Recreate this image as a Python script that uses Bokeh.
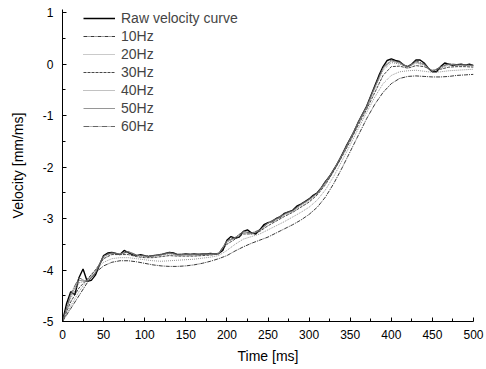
from bokeh.plotting import figure
from bokeh.models import Legend, LegendItem, Range1d, FixedTicker, CustomJSTickFormatter
from bokeh.embed import file_html
from bokeh.resources import INLINE

# ---- data ----
t_raw = [0, 5, 10, 15, 20, 25, 30, 35, 40, 45, 50, 55, 60, 65, 70, 75, 80, 85, 90, 95,
         100, 105, 110, 115, 120, 125, 130, 135, 140, 145, 150, 155, 160, 165, 170, 175,
         180, 185, 190, 195, 200, 205, 210, 215, 220, 225, 230, 235, 240, 245, 250, 255,
         260, 265, 270, 275, 280, 285, 290, 295, 300, 305, 310, 315, 320, 325, 330, 335,
         340, 345, 350, 355, 360, 365, 370, 375, 380, 385, 390, 395, 400, 405, 410, 415,
         420, 425, 430, 435, 440, 445, 450, 455, 460, 465, 470, 475, 480, 485, 490, 495, 500]
raw = [-5.0, -4.65, -4.42, -4.48, -4.15, -3.98, -4.22, -4.2, -4.1, -3.9, -3.72, -3.67, -3.66,
       -3.68, -3.7, -3.62, -3.66, -3.7, -3.72, -3.7, -3.72, -3.74, -3.72, -3.71, -3.7, -3.68,
       -3.66, -3.67, -3.7, -3.7, -3.69, -3.7, -3.69, -3.7, -3.69, -3.69, -3.68, -3.69, -3.68,
       -3.62, -3.42, -3.35, -3.38, -3.36, -3.25, -3.22, -3.28, -3.3, -3.22, -3.12, -3.08,
       -3.06, -3.0, -2.97, -2.9, -2.87, -2.84, -2.76, -2.72, -2.67, -2.62, -2.55, -2.5, -2.4,
       -2.28, -2.18, -2.05, -1.92, -1.76, -1.6, -1.45, -1.3, -1.12, -0.97, -0.82, -0.62,
       -0.42, -0.22, -0.05, 0.07, 0.1, 0.07, 0.05, -0.02, -0.05, 0.0, 0.08, 0.08, 0.02,
       -0.08, -0.15, -0.15, -0.05, 0.02, 0.0, -0.03, -0.01, 0.0, -0.02, 0.0, -0.03]

t_f = [0, 10, 20, 30, 40, 50, 60, 70, 80, 90, 100, 110, 120, 130, 140, 150, 160, 170, 180,
       190, 200, 210, 220, 230, 240, 250, 260, 270, 280, 290, 300, 310, 320, 330, 340, 350,
       360, 370, 380, 390, 400, 410, 420, 430, 440, 450, 460, 470, 480, 490, 500]
f10 = [-5.0, -4.75, -4.5, -4.25, -4.05, -3.92, -3.85, -3.82, -3.82, -3.84, -3.87, -3.9,
       -3.92, -3.93, -3.93, -3.92, -3.9, -3.87, -3.83, -3.78, -3.72, -3.63, -3.55, -3.48,
       -3.42, -3.36, -3.28, -3.2, -3.12, -3.03, -2.92, -2.78, -2.58, -2.32, -2.02, -1.7,
       -1.38, -1.06, -0.78, -0.55, -0.38, -0.28, -0.24, -0.23, -0.24, -0.25, -0.25, -0.24,
       -0.22, -0.21, -0.2]
f20 = [-5.0, -4.7, -4.42, -4.2, -4.0, -3.85, -3.78, -3.76, -3.76, -3.78, -3.8, -3.82,
       -3.83, -3.82, -3.81, -3.8, -3.79, -3.77, -3.75, -3.72, -3.62, -3.5, -3.4, -3.35,
       -3.3, -3.22, -3.14, -3.06, -2.97, -2.88, -2.78, -2.64, -2.44, -2.18, -1.88, -1.57,
       -1.25, -0.94, -0.64, -0.38, -0.22, -0.15, -0.13, -0.12, -0.14, -0.16, -0.15, -0.13,
       -0.12, -0.11, -0.1]
f30 = [-5.0, -4.62, -4.35, -4.18, -4.0, -3.78, -3.7, -3.7, -3.7, -3.74, -3.76, -3.76,
       -3.74, -3.72, -3.73, -3.73, -3.73, -3.72, -3.71, -3.69, -3.5, -3.4, -3.3, -3.3,
       -3.25, -3.14, -3.05, -2.96, -2.88, -2.78, -2.68, -2.54, -2.34, -2.08, -1.8, -1.5,
       -1.18, -0.88, -0.55, -0.22, -0.05, -0.04, -0.08, -0.03, -0.05, -0.12, -0.1, -0.06,
       -0.05, -0.05, -0.06]
f40 = [-5.0, -4.55, -4.25, -4.2, -4.02, -3.75, -3.68, -3.68, -3.66, -3.72, -3.74, -3.74,
       -3.71, -3.69, -3.71, -3.71, -3.71, -3.7, -3.7, -3.69, -3.46, -3.38, -3.27, -3.3,
       -3.24, -3.1, -3.03, -2.93, -2.86, -2.75, -2.65, -2.52, -2.31, -2.06, -1.78, -1.47,
       -1.14, -0.85, -0.48, -0.12, 0.03, 0.0, -0.06, 0.02, -0.02, -0.13, -0.08, -0.02,
       -0.03, -0.03, -0.04]
f50 = [-5.0, -4.5, -4.2, -4.22, -4.05, -3.73, -3.67, -3.69, -3.64, -3.71, -3.73, -3.73,
       -3.7, -3.67, -3.7, -3.7, -3.7, -3.69, -3.69, -3.68, -3.44, -3.37, -3.25, -3.29,
       -3.23, -3.09, -3.01, -2.92, -2.85, -2.73, -2.63, -2.51, -2.29, -2.05, -1.77, -1.46,
       -1.12, -0.83, -0.45, -0.08, 0.06, 0.02, -0.05, 0.04, -0.01, -0.14, -0.06, 0.0,
       -0.02, -0.02, -0.03]
f60 = [-5.0, -4.46, -4.15, -4.23, -4.07, -3.72, -3.66, -3.7, -3.64, -3.71, -3.72, -3.72,
       -3.7, -3.66, -3.7, -3.69, -3.69, -3.69, -3.68, -3.68, -3.43, -3.37, -3.25, -3.28,
       -3.22, -3.08, -3.0, -2.9, -2.84, -2.72, -2.62, -2.5, -2.28, -2.05, -1.76, -1.45,
       -1.12, -0.82, -0.43, -0.06, 0.08, 0.04, -0.05, 0.06, 0.01, -0.15, -0.05, 0.01,
       -0.01, -0.01, -0.02]

labels = ["Raw velocity curve", "10Hz", "20Hz", "30Hz", "40Hz", "50Hz", "60Hz"]
x_ticks = [0, 50, 100, 150, 200, 250, 300, 350, 400, 450, 500]
y_ticks = [-5, -4, -3, -2, -1, 0, 1]

FONT = "Liberation Sans"

p = figure(width=486, height=369, output_backend="svg", toolbar_location=None,
           x_range=Range1d(0, 500), y_range=Range1d(-5, 1.06),
           min_border_left=62, min_border_right=13, min_border_top=9, min_border_bottom=48)
p.outline_line_color = None
p.xgrid.visible = False
p.ygrid.visible = False
p.background_fill_color = "white"
p.border_fill_color = "white"

series = [
    (t_f, f10, "#222222", "4 1 1 1", 0.9),
    (t_f, f20, "#888888", "1 1", 0.9),
    (t_f, f30, "#333333", "3 1", 0.9),
    (t_f, f40, "#777777", "1 1", 0.9),
    (t_f, f50, "#8a8a8a", "solid", 0.9),
    (t_f, f60, "#555555", "6 1 1 1", 0.9),
]
renderers = []
r_raw = p.line(t_raw, raw, line_color="black", line_width=1.4)
for tx, vy, col, dash, w in series:
    r = p.line(tx, vy, line_color=col, line_dash=dash, line_width=w)
    renderers.append(r)
all_r = [r_raw] + renderers

legend = Legend(items=[LegendItem(label=l, renderers=[r]) for l, r in zip(labels, all_r)],
                location=(21, 187), border_line_color=None, background_fill_alpha=0,
                label_text_font=FONT, label_text_font_size="14px",
                glyph_width=32, glyph_height=16, label_height=16, spacing=2,
                label_standoff=6, padding=0, margin=0)
p.add_layout(legend)

for ax in (p.xaxis[0], p.yaxis[0]):
    ax.axis_line_color = "black"
    ax.axis_line_width = 1
    ax.major_tick_in = 4
    ax.major_tick_out = 0
    ax.minor_tick_in = 3
    ax.minor_tick_out = 0
    ax.major_tick_line_color = "black"
    ax.minor_tick_line_color = "black"
    ax.major_label_text_font = FONT
    ax.major_label_text_font_size = "12px"
    ax.major_label_text_color = "black"
    ax.axis_label_text_font = FONT
    ax.axis_label_text_font_size = "14px"
    ax.axis_label_text_font_style = "normal"
    ax.axis_label_text_color = "black"

p.xaxis[0].ticker = FixedTicker(ticks=x_ticks, minor_ticks=[v + 25 for v in x_ticks[:-1]])
p.yaxis[0].ticker = FixedTicker(ticks=y_ticks, minor_ticks=[v + 0.5 for v in y_ticks[:-1]])
p.yaxis[0].formatter = CustomJSTickFormatter(code="return tick.toFixed(0);")
p.xaxis.axis_label = "Time [ms]"
p.yaxis.axis_label = "Velocity [mm/ms]"
p.xaxis.major_label_standoff = 8
p.yaxis.major_label_standoff = 9
p.xaxis.axis_label_standoff = 6
p.yaxis.axis_label_standoff = 14

open("out.html", "w").write(file_html(p, INLINE))
